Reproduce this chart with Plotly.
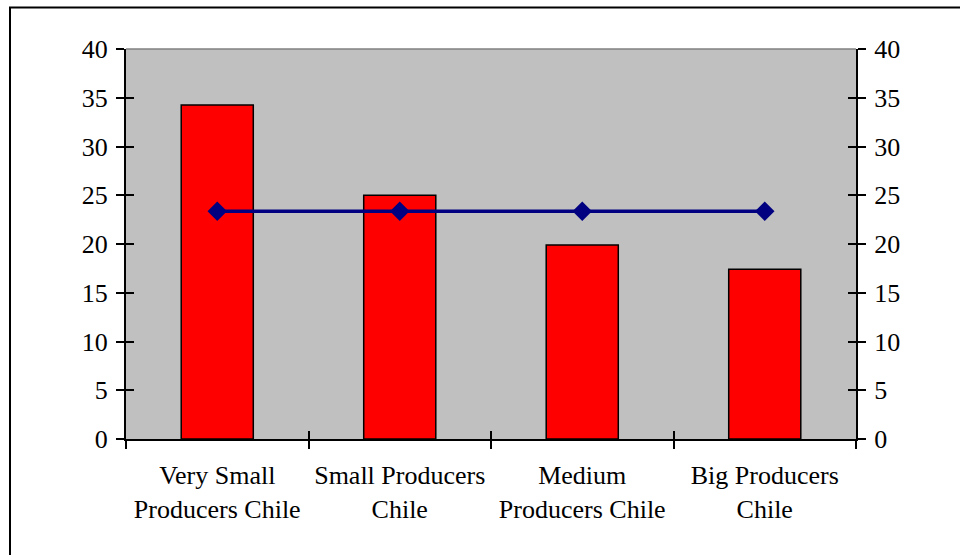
import plotly.graph_objects as go

categories = ["Very Small<br>Producers Chile", "Small Producers<br>Chile",
              "Medium<br>Producers Chile", "Big Producers<br>Chile"]
bar_values = [34.25, 25.0, 19.9, 17.4]
avg_values = [23.35, 23.35, 23.35, 23.35]
y_ticks = [0, 5, 10, 15, 20, 25, 30, 35, 40]

FONT = dict(family="Liberation Serif, Times New Roman, serif", size=26, color="black")

fig = go.Figure()
fig.add_trace(go.Bar(x=categories, y=bar_values, marker=dict(color="#FF0000",
                     line=dict(color="black", width=1.5)), showlegend=False))
fig.add_trace(go.Scatter(x=categories, y=avg_values, mode="lines+markers",
                         line=dict(color="#000080", width=3.5),
                         marker=dict(symbol="diamond", size=15, color="#000080"),
                         showlegend=False))

yax_common = dict(range=[0, 40], tickvals=y_ticks, showgrid=False, zeroline=False,
                  linecolor="black", linewidth=2, tickcolor="black", tickwidth=2,
                  ticklen=8, tickfont=FONT, fixedrange=True)

fig.update_layout(
    width=960, height=555,
    margin=dict(l=126, r=104, t=49, b=116),
    paper_bgcolor="white", plot_bgcolor="#C0C0C0",
    bargap=0.605,
    font=FONT,
    xaxis=dict(type="category", tickson="boundaries", ticks="outside", ticklen=8,
               tickwidth=2, tickcolor="black", showline=True, linecolor="black",
               linewidth=2, showgrid=False, tickfont=FONT, ticklabelstandoff=12),
    xaxis2=dict(type="category", overlaying="x", side="bottom", anchor="y",
                categoryarray=categories, categoryorder="array", range=[-0.5, 3.5],
                tickson="boundaries", ticks="inside", ticklen=8, tickwidth=2,
                tickcolor="black", showticklabels=False, showgrid=False,
                showline=False, matches="x"),
    yaxis=dict(side="left", ticks="outside", showline=True, ticklabelstandoff=3,
               **yax_common),
    yaxis2=dict(side="right", overlaying="y", anchor="x", ticks="outside",
                showline=True, ticklabelstandoff=3, **yax_common),
    yaxis3=dict(side="left", overlaying="y", anchor="x", ticks="inside",
                showline=False, showticklabels=False, **yax_common),
    yaxis4=dict(side="right", overlaying="y", anchor="x", ticks="inside",
                showline=False, showticklabels=False, **yax_common),
)

# helper invisible traces so overlay axes are rendered
for ya in ["y2", "y3", "y4"]:
    fig.add_trace(go.Scatter(x=categories, y=bar_values, xaxis="x2", yaxis=ya,
                             mode="markers", marker=dict(opacity=0), hoverinfo="skip",
                             showlegend=False))

# plot-area top edge (gray) and outer chart frame
fig.add_shape(type="line", xref="paper", yref="paper", x0=0, x1=1, y0=1, y1=1,
              line=dict(color="#808080", width=1.5))
fig.add_shape(type="rect", xref="paper", yref="paper",
              x0=(10 - 126) / 730, x1=(970 - 126) / 730,
              y0=(439 - 570) / 390, y1=(439 - 7.5) / 390,
              line=dict(color="black", width=2), fillcolor="rgba(0,0,0,0)")

fig.write_html("out.html")
